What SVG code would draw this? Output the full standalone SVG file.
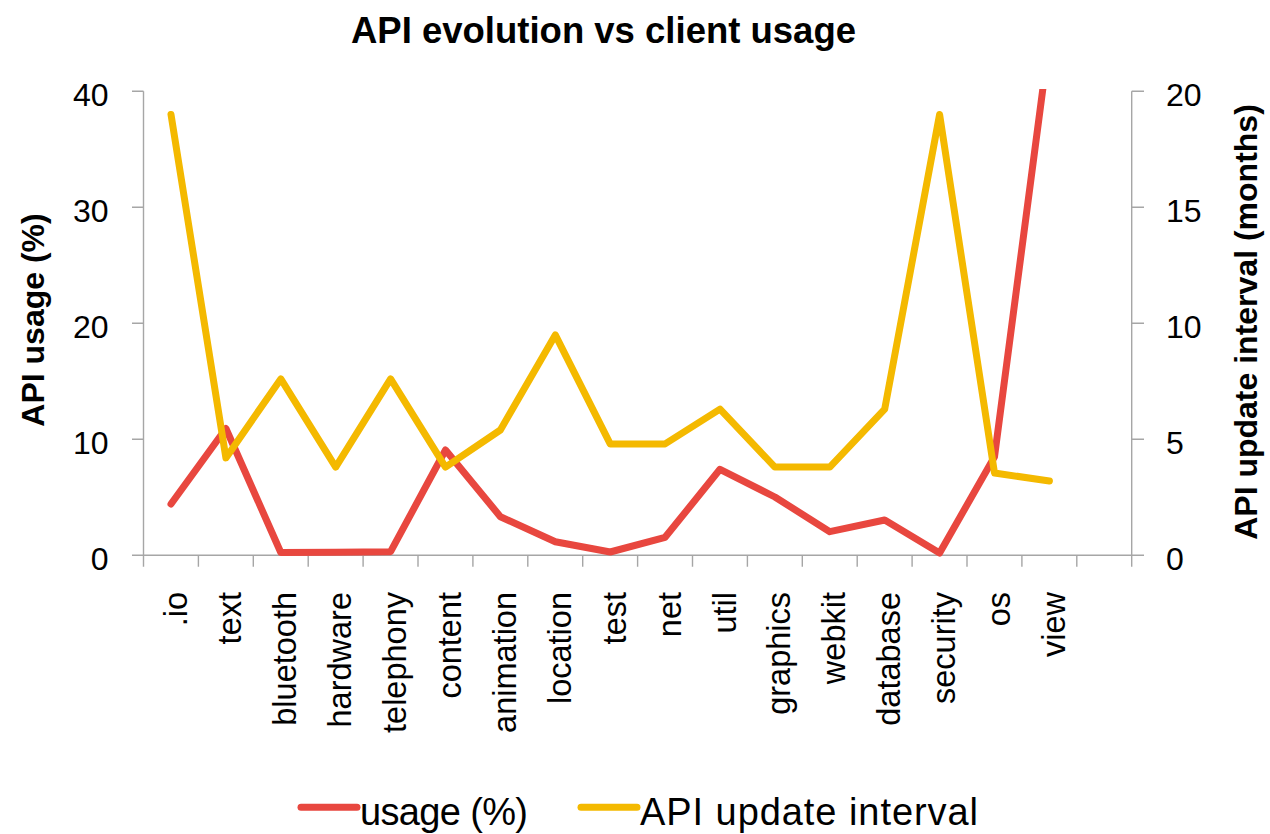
<svg xmlns="http://www.w3.org/2000/svg" width="1270" height="834" viewBox="0 0 1270 834">
<style>
  .axis { stroke: #a6a6a6; stroke-width: 1.4; fill: none; }
  .tick { font-family: "Liberation Sans", Arial, sans-serif; font-size: 32px; fill: #000; }
  .cat { font-family: "Liberation Sans", Arial, sans-serif; font-size: 32.5px; fill: #000; text-anchor: end; }
  .atitle { font-family: "Liberation Sans", Arial, sans-serif; font-size: 32px; font-weight: bold; fill: #000; text-anchor: middle; }
  .title { font-family: "Liberation Sans", Arial, sans-serif; font-size: 36.5px; font-weight: bold; fill: #000; text-anchor: middle; }
  .leg { font-family: "Liberation Sans", Arial, sans-serif; font-size: 38px; fill: #000; }
  .red { stroke: #E8473F; stroke-width: 7; fill: none; stroke-linecap: round; stroke-linejoin: round; }
  .yel { stroke: #F4B900; stroke-width: 7; fill: none; stroke-linecap: round; stroke-linejoin: round; }
</style>
<defs>
  <clipPath id="plot"><rect x="140" y="89" width="1000" height="480"/></clipPath>
</defs>
<rect width="1270" height="834" fill="#ffffff"/>

<text class="title" x="603.5" y="43">API evolution vs client usage</text>

<g id="axes">
  <path class="axis" d="M143.5 91.3 V566.7 M1131.7 91.3 V566.7 M143.5 555.3 H1131.7"/>
  <path class="axis" d="M132 91.3 H143.5 M132 207.3 H143.5 M132 323.3 H143.5 M132 439.3 H143.5 M132 555.3 H143.5"/>
  <path class="axis" d="M1131.7 91.3 H1144 M1131.7 207.3 H1144 M1131.7 323.3 H1144 M1131.7 439.3 H1144 M1131.7 555.3 H1144"/>
  <path class="axis" d="M198.4 555.3 V566.7 M253.3 555.3 V566.7 M308.2 555.3 V566.7 M363.1 555.3 V566.7 M418 555.3 V566.7 M472.9 555.3 V566.7 M527.8 555.3 V566.7 M582.7 555.3 V566.7 M637.6 555.3 V566.7 M692.5 555.3 V566.7 M747.4 555.3 V566.7 M802.3 555.3 V566.7 M857.2 555.3 V566.7 M912.1 555.3 V566.7 M967 555.3 V566.7 M1021.9 555.3 V566.7 M1076.8 555.3 V566.7"/>
</g>

<g id="left-axis-labels">
  <text class="tick" x="108.5" y="106" text-anchor="end">40</text>
  <text class="tick" x="108.5" y="222" text-anchor="end">30</text>
  <text class="tick" x="108.5" y="338" text-anchor="end">20</text>
  <text class="tick" x="108.5" y="454" text-anchor="end">10</text>
  <text class="tick" x="108.5" y="570" text-anchor="end">0</text>
  <text class="atitle" transform="translate(43.5,320) rotate(-90)">API usage (%)</text>
</g>

<g id="right-axis-labels">
  <text class="tick" x="1166" y="106">20</text>
  <text class="tick" x="1166" y="222">15</text>
  <text class="tick" x="1166" y="338">10</text>
  <text class="tick" x="1166" y="454">5</text>
  <text class="tick" x="1166" y="570">0</text>
  <text class="atitle" transform="translate(1256.5,322) rotate(-90)">API update interval (months)</text>
</g>

<g id="categories">
  <text class="cat" transform="translate(186.5,592) rotate(-90)">.io</text>
  <text class="cat" transform="translate(241.4,592) rotate(-90)">text</text>
  <text class="cat" transform="translate(296.3,592) rotate(-90)">bluetooth</text>
  <text class="cat" transform="translate(351.2,592) rotate(-90)">hardware</text>
  <text class="cat" transform="translate(406.1,592) rotate(-90)">telephony</text>
  <text class="cat" transform="translate(461,592) rotate(-90)">content</text>
  <text class="cat" transform="translate(515.9,592) rotate(-90)">animation</text>
  <text class="cat" transform="translate(570.8,592) rotate(-90)">location</text>
  <text class="cat" transform="translate(625.7,592) rotate(-90)">test</text>
  <text class="cat" transform="translate(680.6,592) rotate(-90)">net</text>
  <text class="cat" transform="translate(735.5,592) rotate(-90)">util</text>
  <text class="cat" transform="translate(790.4,592) rotate(-90)">graphics</text>
  <text class="cat" transform="translate(845.3,592) rotate(-90)">webkit</text>
  <text class="cat" transform="translate(900.2,592) rotate(-90)">database</text>
  <text class="cat" transform="translate(955.1,592) rotate(-90)">security</text>
  <text class="cat" transform="translate(1010,592) rotate(-90)">os</text>
  <text class="cat" transform="translate(1064.9,592) rotate(-90)">view</text>
</g>

<g id="connectors" clip-path="url(#plot)">
  <polyline id="usage" class="red" points="171,504 225.9,428.5 280.8,552.5 335.7,552.3 390.6,551.7 445.5,450 500.4,516.7 555.3,541.7 610.2,552 665.1,537.3 720,469.3 774.9,497 829.8,531.7 884.7,520 939.6,553 994.5,456.7 1049.4,39"/>
  <polyline id="update-interval" class="yel" points="171,114.5 225.9,457.9 280.8,378.9 335.7,467.1 390.6,378.9 445.5,467.1 500.4,430 555.3,334.9 610.2,443.9 665.1,443.9 720,409.1 774.9,467.1 829.8,467.1 884.7,409.1 939.6,114.5 994.5,473 1049.4,481"/>
</g>

<g id="legend">
  <line class="red" x1="301" y1="807.3" x2="357" y2="807.3"/>
  <text class="leg" x="360" y="824.5" textLength="168" lengthAdjust="spacing">usage (%)</text>
  <line class="yel" x1="581" y1="807.3" x2="637" y2="807.3"/>
  <text class="leg" x="640" y="824.5" textLength="338" lengthAdjust="spacing">API update interval</text>
</g>
</svg>
